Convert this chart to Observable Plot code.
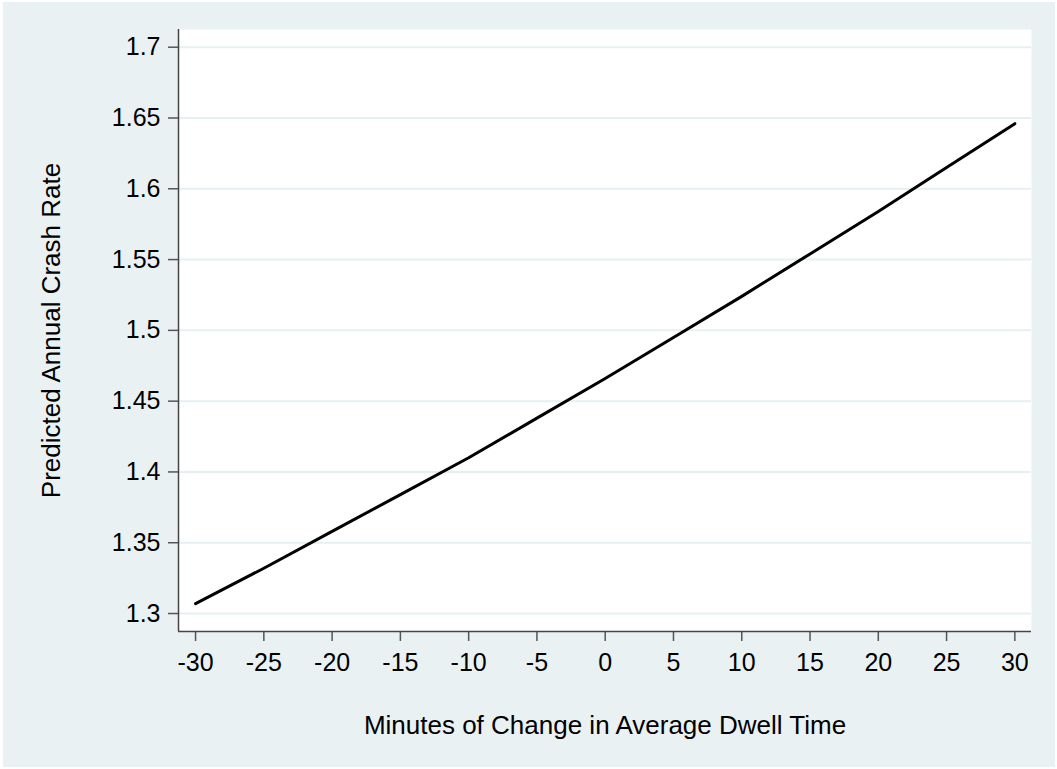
<!DOCTYPE html>
<html><head><meta charset="utf-8">
<script src="https://cdn.jsdelivr.net/npm/d3@7"></script>
<script src="https://cdn.jsdelivr.net/npm/@observablehq/plot@0.6"></script>
<style>
html,body{margin:0;padding:0;background:#fff;}
#bg{position:absolute;left:3px;top:2px;width:1052px;height:765px;background:#EAF1F3;}
#chart{position:absolute;left:0;top:0;}
</style></head><body><div id="bg"></div><div id="chart"></div>
<script>
const minutes = [-30, -25, -20, -15, -10, -5, 0, 5, 10, 15, 20, 25, 30];
const crashRate = [1.307, 1.332, 1.358, 1.384, 1.410, 1.438, 1.466, 1.495, 1.524, 1.554, 1.584, 1.615, 1.646];
const yTicks = [1.3, 1.35, 1.4, 1.45, 1.5, 1.55, 1.6, 1.65, 1.7];
const xTicks = [-30, -25, -20, -15, -10, -5, 0, 5, 10, 15, 20, 25, 30];
const xTitle = "Minutes of Change in Average Dwell Time";
const yTitle = "Predicted Annual Crash Rate";

const data = minutes.map((m, i) => ({m, r: crashRate[i]}));
const xDomain = [-31.25, 31.22];
const yDomain = [1.2873, 1.7125];

const chart = Plot.plot({
  width: 1057, height: 769,
  marginLeft: 178, marginRight: 26, marginTop: 29, marginBottom: 138,
  style: {background: "transparent", fontFamily: "'Liberation Sans', Arial, sans-serif", color: "#000"},
  x: {domain: xDomain},
  y: {domain: yDomain},
  marks: [
    Plot.frame({fill: "white", stroke: null}),
    Plot.gridY(yTicks, {stroke: "#E6EFF1", strokeOpacity: 1, strokeWidth: 2}),
    Plot.axisY(yTicks, {tickSize: 10, tickPadding: 8, fontSize: 25, stroke: "#555", strokeWidth: 1.5, fill: "#000", tickFormat: d => String(d), label: null}),
    Plot.axisX(xTicks, {tickSize: 10, tickPadding: 12, fontSize: 25, stroke: "#555", strokeWidth: 1.5, fill: "#000", tickFormat: d => String(d), label: null}),
    Plot.ruleX([xDomain[0]], {stroke: "#444", strokeWidth: 1.5}),
    Plot.ruleY([yDomain[0]], {stroke: "#444", strokeWidth: 1.5}),
    Plot.line(data, {x: "m", y: "r", stroke: "#000", strokeWidth: 3}),
    Plot.text([yTitle], {frameAnchor: "left", textAnchor: "middle", rotate: -90, dx: -127, lineAnchor: "middle", fontSize: 26, fill: "#000"}),
    Plot.text([xTitle], {frameAnchor: "bottom", textAnchor: "middle", dy: 94, lineAnchor: "middle", fontSize: 26, fill: "#000"})
  ]
});
document.getElementById("chart").appendChild(chart);
</script>
</body></html>
